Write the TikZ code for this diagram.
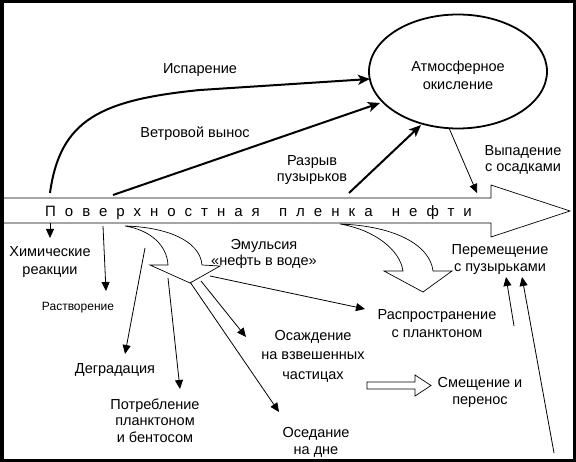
\documentclass[tikz,border=0pt]{standalone}
\usepackage{fontspec}
\setmainfont{Liberation Sans}
\usetikzlibrary{arrows.meta,shapes.geometric}
\begin{document}
\begin{tikzpicture}[x=1pt,y=-1pt,
  lbl/.style={font=\fontsize{14.5}{17}\selectfont, align=center, inner sep=0pt},
  thickarr/.style={line width=2pt, -{Stealth[length=12pt,width=10pt,inset=3pt]}},
  thinarr/.style={line width=0.8pt, -{Triangle[length=9pt,width=8pt]}},
  hollow/.style={line width=0.7pt, draw=black, fill=white, line join=miter},
]
\useasboundingbox (0,0) rectangle (576,462);
\fill[white] (0,0) rectangle (576,462);

% big arrow (oil film)
\draw[hollow] (0,198) -- (491,198) -- (491,185) -- (570,211) -- (491,237) -- (491,223) -- (0,223);
\node[font=\fontsize{15}{18}\selectfont\addfontfeature{LetterSpace=60}, anchor=base west, inner sep=0pt] (film) at (45,217) {Поверхностная\hspace{6pt} пленка\hspace{6pt} нефти};

% ellipse
\node[ellipse, draw, line width=1.8pt, minimum width=178pt, minimum height=114pt, inner sep=0pt] (atm) at (458,71.5) {};
\node[lbl, font=\fontsize{14.5}{18}\selectfont] (atmtxt) at (458,75) {Атмосферное\\окисление};

% labels
\node[lbl] (isp) at (200,70) {Испарение};
\node[lbl] (veter) at (195,134) {Ветровой вынос};
\node[lbl, font=\fontsize{14.5}{16}\selectfont] (razryv) at (312,170) {Разрыв\\пузырьков};
\node[lbl, font=\fontsize{14.5}{16}\selectfont] (vypad) at (523,159.5) {Выпадение\\с осадками};
\node[lbl, font=\fontsize{14.5}{18}\selectfont] (him) at (50,262.5) {Химические\\реакции};
\node[lbl, font=\fontsize{12}{14}\selectfont] (rastv) at (78,308) {Растворение};
\node[lbl, font=\fontsize{14.5}{16}\selectfont] (emul) at (264,253.5) {Эмульсия\\«нефть в воде»};
\node[lbl] (degr) at (115,370) {Деградация};
\node[lbl, font=\fontsize{14.5}{16.5}\selectfont] (potr) at (155,420.5) {Потребление\\планктоном\\и бентосом};
\node[lbl, font=\fontsize{14.5}{19.5}\selectfont] (osazh) at (313,356) {Осаждение\\на взвешенных\\частицах};
\node[lbl] (osed) at (316,442) {Оседание\\на дне};
\node[lbl, font=\fontsize{14.5}{18}\selectfont] (rasp) at (437,323.5) {Распространение\\с планктоном};
\node[lbl] (smesh) at (480,392.5) {Смещение и\\перенос};
\node[lbl] (perem) at (500,260) {Перемещение\\с пузырьками};

% coordinates
\coordinate (ispA) at (50,193);
\coordinate (ispB) at (370,79);
\coordinate (vetA) at (113,195);
\coordinate (vetB) at (380,103);
\coordinate (razA) at (349,193);
\coordinate (razB) at (421,125);
\coordinate (vypA) at (449,128);
\coordinate (vypB) at (477,193);
\coordinate (himA) at (50,223);
\coordinate (himB) at (50,238);
\coordinate (rasA) at (103,226);
\coordinate (rasB) at (106,291);
\coordinate (degA) at (145,248);
\coordinate (degB) at (125,354);
\coordinate (potA) at (168,278);
\coordinate (potB) at (180,389);
\coordinate (rspA) at (210,276);
\coordinate (rspB) at (365,309);
\coordinate (ozA) at (201,281);
\coordinate (ozB) at (246,337);
\coordinate (odA) at (190,282);
\coordinate (odB) at (279,412);
\coordinate (pm1A) at (514,326);
\coordinate (pm1B) at (506,277);
\coordinate (pm2A) at (554,453);
\coordinate (pm2B) at (522,277);

% thick arrows to the atmosphere
\draw[thickarr] (ispA) .. controls (60,120) and (100,100) .. (200,90) -- (ispB);
\draw[thickarr] (vetA) -- (vetB);
\draw[thickarr] (razA) -- (razB);
\draw[thinarr] (vypA) -- (vypB);

% hollow curved arrows
\draw[hollow] (125,226) .. controls (165,227) and (200,240) .. (202,265) -- (220,266) -- (190,283) -- (150,265) -- (168,265) .. controls (167,245) and (150,230) .. (125,226) -- cycle;
\draw[hollow] (340,224) .. controls (395,226) and (430,245) .. (433,271) -- (452,271) -- (423,292) -- (384,271) -- (403,271) .. controls (400,250) and (375,230) .. (340,224) -- cycle;
\draw[hollow] (367,382) -- (415,382) -- (415,375) -- (431,385.5) -- (415,396) -- (415,389) -- (367,389) -- cycle;

% thin arrows
\draw[thinarr] (himA) -- (himB);
\draw[thinarr] (rasA) -- (rasB);
\draw[thinarr] (degA) -- (degB);
\draw[thinarr] (potA) -- (potB);
\draw[thinarr] (rspA) -- (rspB);
\draw[thinarr] (ozA) -- (ozB);
\draw[thinarr] (odA) -- (odB);
\draw[thinarr] (pm1A) -- (pm1B);
\draw[thinarr] (pm2A) -- (pm2B);

% frame
\draw[line width=3.5pt] (1.75,1.75) rectangle (574.25,460.25);
\end{tikzpicture}
\end{document}
